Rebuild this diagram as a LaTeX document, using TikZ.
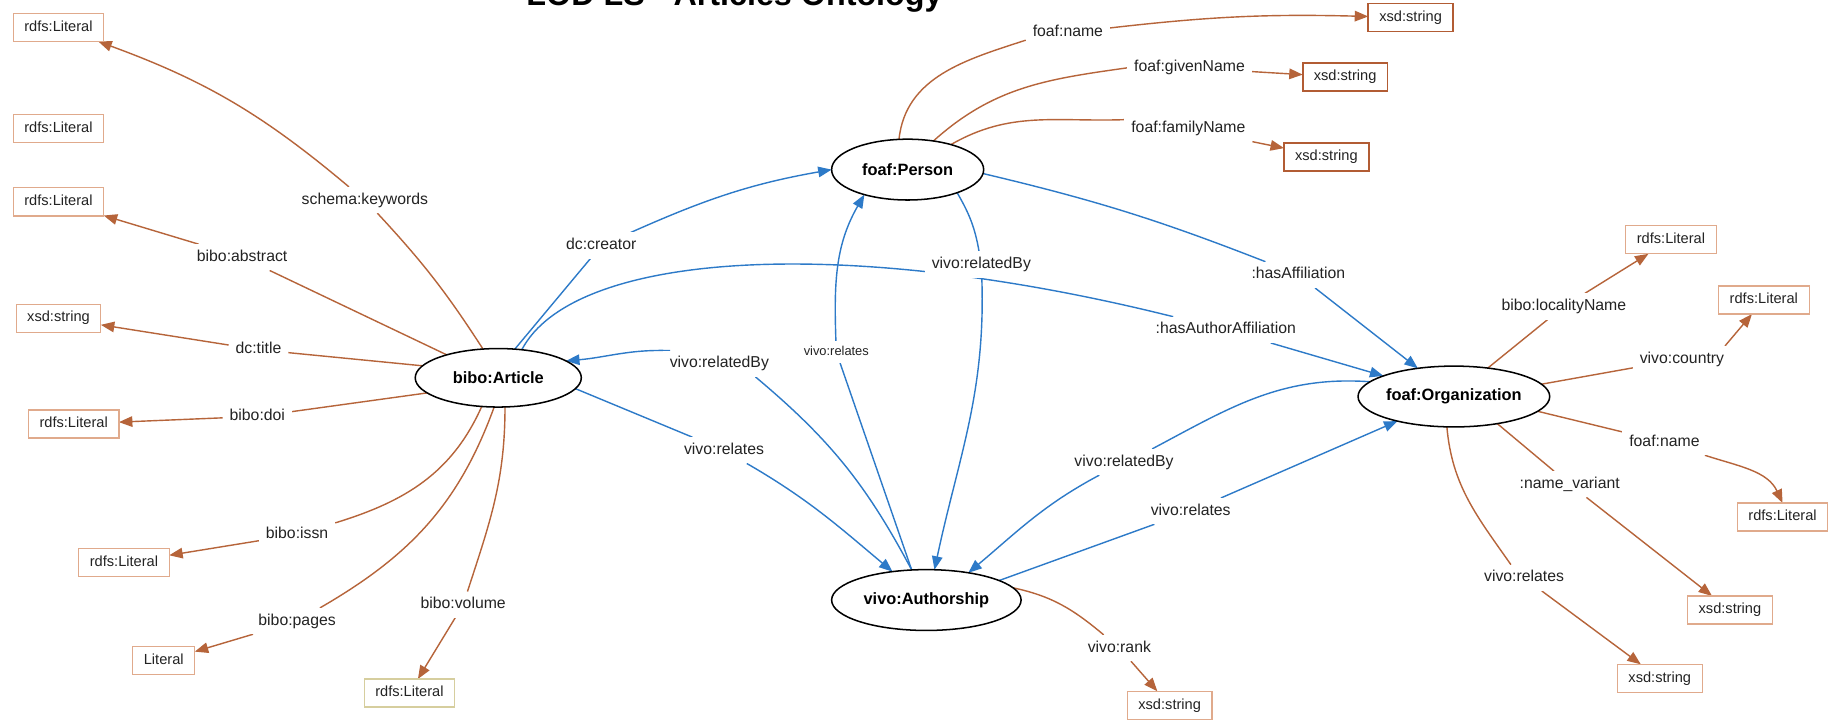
\documentclass[tikz,border=0pt]{standalone}
\usepackage{fontspec}
\setmainfont{Liberation Sans}
\usetikzlibrary{arrows.meta,shapes.geometric}
\pgfdeclarelayer{back}
\pgfdeclarelayer{edges}
\pgfsetlayers{back,edges,main}
\definecolor{brn}{RGB}{182,100,58}
\definecolor{blu}{RGB}{45,122,200}
\definecolor{boxl}{RGB}{224,170,140}
\definecolor{boxd}{RGB}{178,92,52}
\definecolor{khaki}{RGB}{214,206,158}
\definecolor{txt}{RGB}{35,35,35}
\begin{document}
\begin{tikzpicture}[x=1pt,y=1pt,
  ent/.style={ellipse, draw=black, line width=1.3pt, fill=white, inner sep=0pt, outer sep=0pt,
    font=\fontsize{14}{16}\selectfont\bfseries, text=black},
  lit/.style={rectangle, draw=boxl, line width=1pt, fill=white, inner xsep=9.5pt, inner ysep=0pt,
    minimum height=24pt, outer sep=0pt, text height=9pt, text depth=2.6pt,
    font=\fontsize{12.5}{14}\selectfont, text=txt},
  litd/.style={lit, draw=boxd, line width=1.5pt},
  lbl/.style={fill=white, inner xsep=6pt, inner ysep=5pt, outer sep=0pt, text height=9.7pt,
    text depth=2.8pt, font=\fontsize{13.5}{15}\selectfont, text=txt},
  lbls/.style={lbl, font=\fontsize{11}{13}\selectfont, text height=8pt, text depth=2.3pt, inner ysep=4pt},
  be/.style={draw=brn, line width=1.2pt},
  ba/.style={be, -{Triangle[length=11.5pt,width=9pt]}},
  ue/.style={draw=blu, line width=1.2pt},
  ua/.style={ue, -{Triangle[length=11.5pt,width=9pt]}},
]
\useasboundingbox (0,0) rectangle (1568,-616);
\begin{pgfonlayer}{back}
\fill[white] (0,0) rectangle (1568,-616);
\end{pgfonlayer}

% title (clipped at the top edge, as in the reference)
\node[font=\fontsize{27.6}{30}\selectfont\bfseries, anchor=base, inner sep=0pt] (ttl) at (628,-4.5) {LOD LS - Articles Ontology};

% classes
\node[ent, minimum width=142pt, minimum height=50pt] (art) at (426,-323) {bibo:Article};
\node[ent, minimum width=130pt, minimum height=52pt] (per) at (776,-145) {foaf:Person};
\node[ent, minimum width=162pt, minimum height=52pt] (aut) at (792,-513) {vivo:Authorship};
\node[ent, minimum width=162pt, minimum height=52pt] (org) at (1243,-339) {foaf:Organization};

% literal boxes
\node[lit] (L1) at (50,-23.5) {rdfs:Literal};
\node[lit] (L2) at (50,-110) {rdfs:Literal};
\node[lit] (L3) at (50,-172.6) {rdfs:Literal};
\node[lit] (S4) at (50,-272) {xsd:string};
\node[lit] (L5) at (63,-362.5) {rdfs:Literal};
\node[lit] (L6) at (106,-481) {rdfs:Literal};
\node[lit] (L7) at (140,-565) {Literal};
\node[lit, draw=khaki] (L8) at (350,-592.5) {rdfs:Literal};
\node[litd] (P1) at (1206,-15) {xsd:string};
\node[litd] (P2) at (1150,-66) {xsd:string};
\node[litd] (P3) at (1134,-134) {xsd:string};
\node[lit] (O1) at (1428.6,-205) {rdfs:Literal};
\node[lit] (O2) at (1508,-256.5) {rdfs:Literal};
\node[lit] (O3) at (1524,-442) {rdfs:Literal};
\node[lit] (O4) at (1479,-521.5) {xsd:string};
\node[lit] (O5) at (1419,-580) {xsd:string};
\node[lit] (A1) at (1000,-603) {xsd:string};

% edge labels
\node[lbl] (kw) at (312,-171) {schema:keywords};
\node[lbl] (abs) at (207,-220) {bibo:abstract};
\node[lbl] (dct) at (221,-299) {dc:title};
\node[lbl] (doi) at (220,-356) {bibo:doi};
\node[lbl] (issn) at (254,-457) {bibo:issn};
\node[lbl] (pages) at (254,-531) {bibo:pages};
\node[lbl] (vol) at (396,-517) {bibo:volume};
\node[lbl] (creator) at (514,-210) {dc:creator};
\node[lbl] (rb1) at (839,-226) {vivo:relatedBy};
\node[lbls] (rsm) at (715,-301) {vivo:relates};
\node[lbl] (rb2) at (615,-311) {vivo:relatedBy};
\node[lbl] (rel1) at (619,-385) {vivo:relates};
\node[lbl] (haa) at (1048,-282) {:hasAuthorAffiliation};
\node[lbl] (haf) at (1110,-235) {:hasAffiliation};
\node[lbl] (rb3) at (961,-395) {vivo:relatedBy};
\node[lbl] (rel2) at (1018,-437) {vivo:relates};
\node[lbl] (fname) at (913,-28) {foaf:name};
\node[lbl] (gname) at (1017,-58) {foaf:givenName};
\node[lbl] (fam) at (1016,-110) {foaf:familyName};
\node[lbl] (rank) at (957,-554) {vivo:rank};
\node[lbl] (loc) at (1337,-262) {bibo:localityName};
\node[lbl] (ctry) at (1438,-307) {vivo:country};
\node[lbl] (oname) at (1423,-378) {foaf:name};
\node[lbl] (nvar) at (1342,-414) {:name\_variant};
\node[lbl] (orel) at (1303,-494) {vivo:relates};

\begin{pgfonlayer}{edges}
% bibo:Article literals
\draw[be] (art.118) to[bend right=5] (kw);
\draw[ba] (kw) to[bend right=10] (L1);
\draw[be] (art.156) -- (abs);
\draw[ba] (abs) -- (L3);
\draw[be] (art.171) -- (dct);
\draw[ba] (dct) -- (S4);
\draw[be] (art.192) -- (doi);
\draw[ba] (doi) -- (L5);
\draw[be] (art.240) to[out=246,in=17] (issn);
\draw[ba] (issn) -- (L6);
\draw[be] (art.262) to[out=250,in=30] (pages);
\draw[ba] (pages) -- (L7);
\draw[be] (art.283) to[out=270,in=72] (vol);
\draw[ba] (vol) -- (L8);
% foaf:Person literals
\draw[be] (per.106) to[out=84,in=198] (fname.190);
\draw[ba] (fname) to[bend left=4] (P1);
\draw[be] (per.48) to[out=42,in=188] (gname.west);
\draw[ba] (gname) -- (P2);
\draw[be] (per.30) to[out=30,in=182] (fam.172);
\draw[ba] (fam) -- (P3);
% vivo:Authorship literal
\draw[be] (aut.8) to[out=-12,in=140] (rank.140);
\draw[ba] (rank) -- (A1);
% foaf:Organization literals
\draw[be] (org.40) -- (loc);
\draw[ba] (loc) -- (O1);
\draw[be] (org.8) -- (ctry);
\draw[ba] (ctry.17) -- (O2);
\draw[be] (org.-10) -- (oname);
\draw[ba] (oname) to[out=-18,in=115] (O3.north);
\draw[be] (org.-32) -- (nvar);
\draw[ba] (nvar) -- (O4);
\draw[be] (org.257) to[out=-85,in=125] (orel.135);
\draw[ba] (orel) -- (O5);
% object properties
\draw[ue] (art.60) -- (creator);
\draw[ua] (creator) to[out=24,in=190] (per.west);
\draw[ue] (art.50) .. controls (490,-215) and (720,-200) .. (haa);
\draw[ua] (haa) -- (org);
\draw[ue] (per.-3) to[bend left=4] (haf);
\draw[ua] (haf) -- (org);
\draw[ue] (per.-25) to[out=-60,in=100] (rb1.100);
\draw[ua] (rb1.-88) to[out=-88,in=78] (aut.75);
\draw[ue] (aut.116) -- (rsm);
\draw[ua] (rsm) to[out=92,in=240] (per.210);
\draw[ue] (aut.116) to[out=118,in=-40] (rb2.-20);
\draw[ua] (rb2.165) to[out=178,in=5] (art.14);
\draw[ue] (art.-8) -- (rel1);
\draw[ua] (rel1.-30) to[out=-30,in=140] (aut.140);
\draw[ue] (org.170) to[out=176,in=28] (rb3.25);
\draw[ua] (rb3.208) to[out=208,in=40] (aut.33);
\draw[ue] (aut.15) -- (rel2);
\draw[ua] (rel2) -- (org);
\end{pgfonlayer}
\end{tikzpicture}
\end{document}
